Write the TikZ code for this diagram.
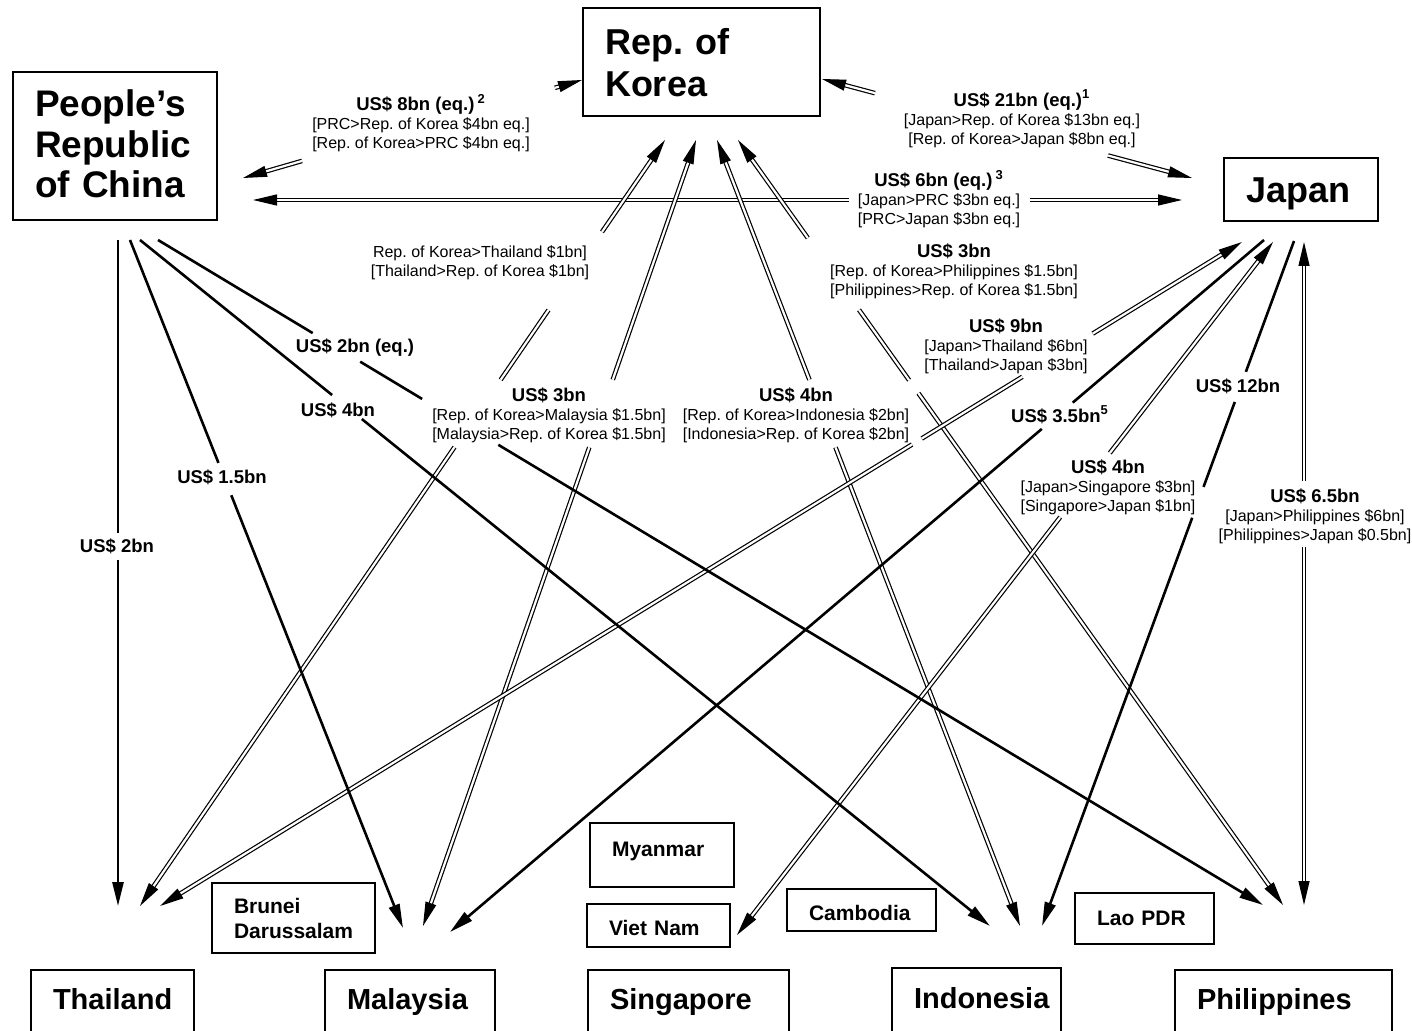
\documentclass[tikz,border=0pt]{standalone}
\usepackage{fontspec}
\setmainfont{Liberation Sans}
\usetikzlibrary{arrows.meta,calc}
\frenchspacing

\tikzset{
  cbox/.style={draw, line width=1.4pt, anchor=north west, inner xsep=11pt, inner ysep=0pt, outer sep=0pt, align=left},
  bigfont/.style={font=\fontsize{18}{21}\selectfont\bfseries},
  midfont/.style={font=\fontsize{14.5}{17}\selectfont\bfseries},
  smallbox/.style={cbox, line width=1pt, font=\fontsize{10.5}{12.5}\selectfont\bfseries},
  oneway/.style={line width=1.3pt},
  twoway/.style={line width=0.6pt, double, double distance=1.1pt},
  lbl/.style={align=center, font=\fontsize{8}{9.5}\selectfont},
}
\newcommand\amt[1]{{\fontsize{9.25}{11}\selectfont\bfseries #1}}
% visible pieces of a connector: from/to fractions and tip
\newcommand\gaplink[4]{%
  \foreach \ta/\tb/\tp in {#4}
    \draw[#1,\tp] ($(#2)!\ta!(#3)$) -- ($(#2)!\tb!(#3)$);}

\begin{document}
\begin{tikzpicture}[x=0.5pt,y=-0.5pt,>={Triangle[length=12pt,width=5.5pt]}]
\useasboundingbox (0,0) rectangle (1412,1031);

% country boxes
\node[cbox,font=\fontsize{18.5}{20.25}\selectfont\bfseries,text width=80pt,text height=22.5pt,text depth=51.5pt] (prc) at (13,72) {People's\\Republic\\of China};
\node[cbox,bigfont,text width=96.5pt,text height=23.5pt,text depth=30.5pt] (kor) at (583,8) {Rep. of\\Korea};
\node[cbox,bigfont,text width=55pt,text height=22.5pt,text depth=9pt] (jap) at (1224,158) {Japan};
\node[cbox,midfont,text width=59.5pt,text height=19.5pt,text depth=15.5pt] (tha) at (31,970) {Thailand};
\node[cbox,midfont,text width=63pt,text height=19.5pt,text depth=15.5pt] (mal) at (325,970) {Malaysia};
\node[cbox,midfont,text width=78.5pt,text height=19.5pt,text depth=15.5pt] (sgp) at (588,970) {Singapore};
\node[cbox,midfont,text width=62.5pt,text height=20pt,text depth=16pt] (ido) at (892,968) {Indonesia};
\node[cbox,midfont,text width=86.5pt,text height=19.5pt,text depth=15.5pt] (phi) at (1175,970) {Philippines};
\node[smallbox,text width=59.5pt,text height=15pt,text depth=20pt] (bru) at (212,883) {Brunei\\Darussalam};
\node[smallbox,text width=50pt,text height=16.5pt,text depth=15.5pt] (mya) at (590,823) {Myanmar};
\node[smallbox,text width=49.5pt,text height=15.5pt,text depth=6pt] (vie) at (587,904) {Viet Nam};
\node[smallbox,text width=52.5pt,text height=15.5pt,text depth=5.5pt] (cam) at (787,889) {Cambodia};
\node[smallbox,text width=47.5pt,text height=16pt,text depth=9.5pt] (lao) at (1075,893) {Lao PDR};

% connector ends
\coordinate (prc-tha) at (118,240);  \coordinate (tha-prc) at (118,906);
\coordinate (prc-mal) at (130,240);  \coordinate (mal-prc) at (403,928);
\coordinate (prc-ido) at (140,240);  \coordinate (ido-prc) at (990,926);
\coordinate (prc-phi) at (158,240);  \coordinate (phi-prc) at (1263,905);
\coordinate (prc-kor) at (243,178);  \coordinate (kor-prc) at (582,80);
\coordinate (prc-jap) at (253,200);  \coordinate (jap-prc) at (1182,200);
\coordinate (kor-jap) at (822,79);   \coordinate (jap-kor) at (1192,178);
\coordinate (kor-tha) at (665,140);  \coordinate (tha-kor) at (140,906);
\coordinate (kor-mal) at (696,140);  \coordinate (mal-kor) at (423,926);
\coordinate (kor-ido) at (717,140);  \coordinate (ido-kor) at (1020,926);
\coordinate (kor-phi) at (738,140);  \coordinate (phi-kor) at (1283,905);
\coordinate (jap-tha) at (1242,242); \coordinate (tha-jap) at (160,906);
\coordinate (jap-mal) at (1264,240); \coordinate (mal-jap) at (450,932);
\coordinate (jap-sgp) at (1273,242); \coordinate (sgp-jap) at (737,935);
\coordinate (jap-ido) at (1294,241); \coordinate (ido-jap) at (1042,926);
\coordinate (jap-phi) at (1304,242); \coordinate (phi-jap) at (1304,905);

% swaps (both ways)
\gaplink{twoway}{prc-jap}{jap-prc}{0/.642/<-, .836/1/->}
\gaplink{twoway}{prc-kor}{kor-prc}{0/.174/<-, .92/1/->}
\gaplink{twoway}{kor-jap}{jap-kor}{0/.143/<-, .773/1/->}
\gaplink{twoway}{kor-tha}{tha-kor}{0/.12/<-, .222/.313/-, .401/1/->}
\gaplink{twoway}{kor-mal}{mal-kor}{0/.305/<-, .391/1/->}
\gaplink{twoway}{kor-ido}{ido-kor}{0/.305/<-, .391/1/->}
\gaplink{twoway}{kor-phi}{phi-kor}{0/.128/<-, .222/.314/-, .331/1/->}
\gaplink{twoway}{jap-tha}{tha-jap}{0/.138/<-, .203/.296/-, .305/1/->}
\gaplink{twoway}{jap-sgp}{sgp-jap}{0/.3045/<-, .397/1/->}
\gaplink{twoway}{jap-phi}{phi-jap}{0/.36/<-, .46/1/->}

% one-way swaps
\gaplink{oneway}{prc-tha}{tha-prc}{0/.44/-, .48/1/->}
\gaplink{oneway}{prc-mal}{mal-prc}{0/.324/-, .371/1/->}
\gaplink{oneway}{prc-ido}{ido-prc}{0/.226/-, .261/1/->}
\gaplink{oneway}{prc-phi}{phi-prc}{0/.14/-, .183/.239/-, .308/1/->}
\gaplink{oneway}{jap-mal}{mal-jap}{0/.235/-, .273/1/->}
\gaplink{oneway}{jap-ido}{ido-jap}{0/.191/-, .235/.359/-, .404/1/->}

% amounts
\node[lbl] (l-prckor) at (421,123) {\amt{US\$ 8bn (eq.)\,\textsuperscript{2}}\\ \relax[PRC>Rep. of Korea \$4bn eq.]\\ \relax[Rep. of Korea>PRC \$4bn eq.]};
\node[lbl] (l-korjap) at (1022,119) {\amt{US\$ 21bn (eq.)\textsuperscript{1}}\\ \relax[Japan>Rep. of Korea \$13bn eq.]\\ \relax[Rep. of Korea>Japan \$8bn eq.]};
\node[lbl] (l-prcjap) at (939,199) {\amt{US\$ 6bn (eq.)\,\textsuperscript{3}}\\ \relax[Japan>PRC \$3bn eq.]\\ \relax[PRC>Japan \$3bn eq.]};
\node[lbl] (l-kortha) at (480,263) {Rep. of Korea>Thailand \$1bn]\\ \relax[Thailand>Rep. of Korea \$1bn]};
\node[lbl] (l-korphi) at (954,271) {\amt{US\$ 3bn}\\ \relax[Rep. of Korea>Philippines \$1.5bn]\\ \relax[Philippines>Rep. of Korea \$1.5bn]};
\node[lbl] (l-japtha) at (1006,346) {\amt{US\$ 9bn}\\ \relax[Japan>Thailand \$6bn]\\ \relax[Thailand>Japan \$3bn]};
\node[lbl] (l-prcphi) at (355,348) {\amt{US\$ 2bn (eq.)}};
\node[lbl] (l-prcido) at (338,410) {\amt{US\$ 4bn}};
\node[lbl] (l-kormal) at (549,415) {\amt{US\$ 3bn}\\ \relax[Rep. of Korea>Malaysia \$1.5bn]\\ \relax[Malaysia>Rep. of Korea \$1.5bn]};
\node[lbl] (l-korido) at (796,415) {\amt{US\$ 4bn}\\ \relax[Rep. of Korea>Indonesia \$2bn]\\ \relax[Indonesia>Rep. of Korea \$2bn]};
\node[lbl] (l-japmal) at (1060,415) {\amt{US\$ 3.5bn\textsuperscript{5}}};
\node[lbl] (l-japido) at (1238,386) {\amt{US\$ 12bn}};
\node[lbl] (l-japsgp) at (1108,487) {\amt{US\$ 4bn}\\ \relax[Japan>Singapore \$3bn]\\ \relax[Singapore>Japan \$1bn]};
\node[lbl] (l-japphi) at (1315,516) {\amt{US\$ 6.5bn}\\ \relax[Japan>Philippines \$6bn]\\ \relax[Philippines>Japan \$0.5bn]};
\node[lbl] (l-prcmal) at (222,477) {\amt{US\$ 1.5bn}};
\node[lbl] (l-prctha) at (117,546) {\amt{US\$ 2bn}};
\end{tikzpicture}
\end{document}
